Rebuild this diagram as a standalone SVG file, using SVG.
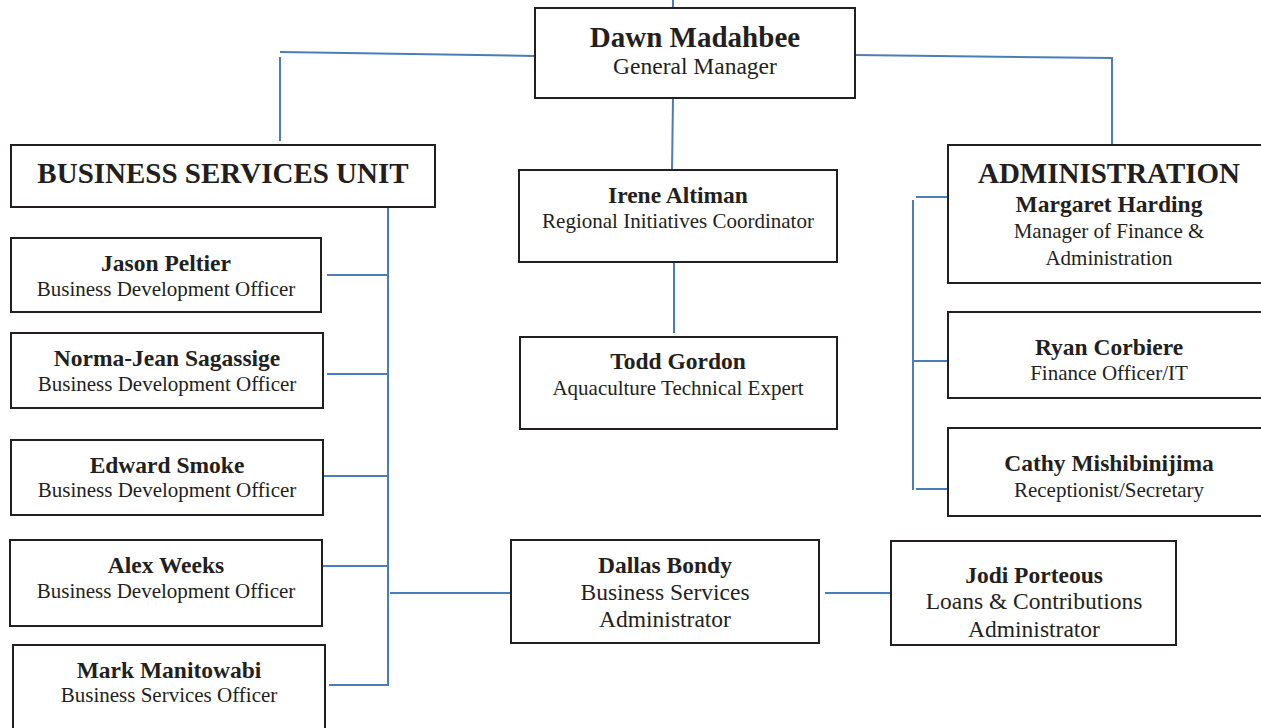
<svg xmlns="http://www.w3.org/2000/svg" width="1261" height="728" viewBox="0 0 1261 728">
<style>
.box{fill:#fff;stroke:#231f20;stroke-width:2}
.c{fill:none;stroke:#4a7ebb;stroke-width:2}
text{font-family:"Liberation Serif","Times New Roman",serif;fill:#231f20;text-anchor:middle}
.h{font-weight:bold;font-size:29px}
.n{font-weight:bold;font-size:23.5px}
.t{font-size:21px}
.t2{font-size:23.5px}
</style>
<rect width="1261" height="728" fill="#fff"/>
<g id="connectors">
<path class="c" d="M673 0V8"/>
<path class="c" d="M535 56L280 52M280 57V141"/>
<path class="c" d="M855 55L1112 58V146"/>
<path class="c" d="M673 98L672 170"/>
<path class="c" d="M388 207V686"/>
<path class="c" d="M327 275H388M327 374H388M323 476H388M322 566H388M329 685H388"/>
<path class="c" d="M390 593H510"/>
<path class="c" d="M825 593H891"/>
<path class="c" d="M674 262V333"/>
<path class="c" d="M913 200V490M916 197H948M913 361H948M916 489H948"/>
</g>
<g id="dawn"><rect class="box" x="535" y="8" width="320" height="90"/><text class="h" x="695" y="47">Dawn Madahbee</text><text class="t2" x="695" y="74">General Manager</text></g>
<g id="bsu"><rect class="box" x="11" y="145" width="424" height="62"/><text class="h" x="223" y="183">BUSINESS SERVICES UNIT</text></g>
<g id="jason"><rect class="box" x="11" y="238" width="310" height="74"/><text class="n" x="166" y="271">Jason Peltier</text><text class="t" x="166" y="296">Business Development Officer</text></g>
<g id="norma"><rect class="box" x="11" y="333" width="312" height="75"/><text class="n" x="167" y="366">Norma-Jean Sagassige</text><text class="t" x="167" y="391">Business Development Officer</text></g>
<g id="edward"><rect class="box" x="11" y="440" width="312" height="75"/><text class="n" x="167" y="473">Edward Smoke</text><text class="t" x="167" y="497">Business Development Officer</text></g>
<g id="alex"><rect class="box" x="10" y="540" width="312" height="86"/><text class="n" x="166" y="573">Alex Weeks</text><text class="t" x="166" y="598">Business Development Officer</text></g>
<g id="mark"><rect class="box" x="13" y="645" width="312" height="90"/><text class="n" x="169" y="678">Mark Manitowabi</text><text class="t" x="169" y="702">Business Services Officer</text></g>
<g id="irene"><rect class="box" x="519" y="170" width="318" height="92"/><text class="n" x="678" y="203">Irene Altiman</text><text class="t" x="678" y="228">Regional Initiatives Coordinator</text></g>
<g id="todd"><rect class="box" x="520" y="337" width="317" height="92"/><text class="n" x="678" y="369">Todd Gordon</text><text class="t" x="678" y="395">Aquaculture Technical Expert</text></g>
<g id="dallas"><rect class="box" x="511" y="540" width="308" height="103"/><text class="n" x="665" y="573">Dallas Bondy</text><text class="t2" x="665" y="600">Business Services</text><text class="t2" x="665" y="627">Administrator</text></g>
<g id="jodi"><rect class="box" x="891" y="541" width="285" height="104"/><text class="n" x="1034" y="583">Jodi Porteous</text><text class="t2" x="1034" y="609">Loans &amp; Contributions</text><text class="t2" x="1034" y="637">Administrator</text></g>
<g id="admin"><rect class="box" x="948" y="145" width="330" height="138"/><text class="h" x="1109" y="183">ADMINISTRATION</text><text class="n" x="1109" y="212">Margaret Harding</text><text class="t" x="1109" y="238">Manager of Finance &amp;</text><text class="t" x="1109" y="265">Administration</text></g>
<g id="ryan"><rect class="box" x="948" y="312" width="330" height="86"/><text class="n" x="1109" y="355">Ryan Corbiere</text><text class="t" x="1109" y="380">Finance Officer/IT</text></g>
<g id="cathy"><rect class="box" x="948" y="428" width="330" height="88"/><text class="n" x="1109" y="471">Cathy Mishibinijima</text><text class="t" x="1109" y="497">Receptionist/Secretary</text></g>
</svg>
